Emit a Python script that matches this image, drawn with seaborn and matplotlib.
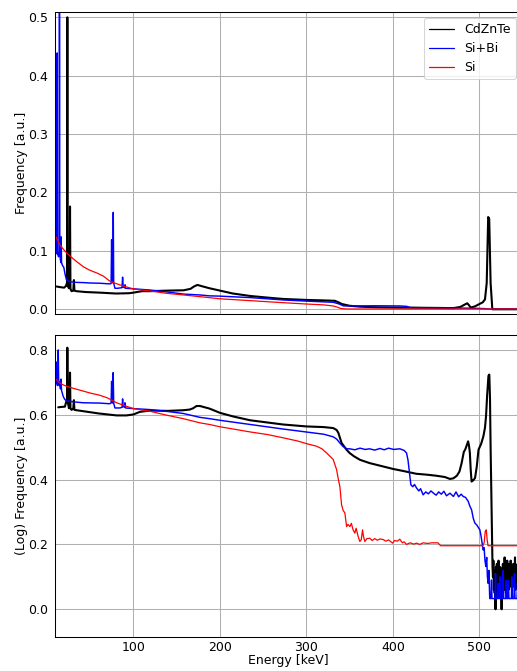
import matplotlib
matplotlib.use("Agg")
import matplotlib.pyplot as plt
import seaborn as sns
import pandas as pd

# ---------------- spectra: linear frequency ----------------
czt_top_e = [11.2, 15, 20, 22, 23.2, 23.6, 24.0, 25.5, 26.3, 26.7, 27.2, 28.5, 30.5, 31.2, 31.8,
             34, 45, 61, 80, 95, 100, 110, 119, 140, 158, 166, 170, 174, 178, 188, 200, 215,
             235, 255, 273, 300, 320, 333, 337, 341, 350, 362, 380, 400, 440, 470, 478, 483,
             486, 488, 490, 495, 500, 504, 506.5, 508.5, 510.2, 511.4, 513, 515, 530, 552]
czt_top_v = [0.039, 0.038, 0.037, 0.040, 0.045, 0.500, 0.040, 0.036, 0.050, 0.176, 0.035, 0.031,
             0.032, 0.050, 0.032, 0.031, 0.0295, 0.0285, 0.027, 0.0275, 0.0285, 0.031, 0.031,
             0.032, 0.0325, 0.035, 0.039, 0.0417, 0.040, 0.036, 0.032, 0.027, 0.0228, 0.020,
             0.0177, 0.016, 0.0152, 0.0145, 0.012, 0.009, 0.006, 0.0045, 0.0035, 0.003, 0.0025,
             0.002, 0.004, 0.008, 0.0103, 0.007, 0.003, 0.005, 0.009, 0.012, 0.017, 0.045,
             0.158, 0.155, 0.045, 0.0, 0.0, 0.0]

sibi_top_e = [10.0, 10.8, 11.5, 11.9, 12.3, 13.5, 14.2, 14.5, 14.9, 15.5, 16.2, 16.5, 16.9, 18,
              19.5, 21, 22.5, 25, 27, 35, 42, 50, 61, 72.5, 74.2, 74.8, 75.3, 76.2, 76.7, 77.2,
              78.6, 82, 86.8, 87.5, 88.2, 89.8, 90.3, 90.8, 100, 119, 140, 158, 177, 188, 200,
              235, 273, 300, 331, 338, 343, 360, 380, 408, 416, 420, 440, 470, 490, 505, 512, 552]
sibi_top_v = [0.13, 0.10, 0.095, 0.439, 0.095, 0.09, 0.10, 0.60, 0.10, 0.085, 0.08, 0.124, 0.08,
              0.075, 0.072, 0.06, 0.051, 0.048, 0.047, 0.046, 0.0457, 0.045, 0.0446, 0.0435,
              0.044, 0.119, 0.050, 0.045, 0.166, 0.045, 0.036, 0.036, 0.037, 0.055, 0.038, 0.037,
              0.042, 0.036, 0.035, 0.033, 0.0295, 0.026, 0.0245, 0.023, 0.0225, 0.020, 0.016,
              0.014, 0.012, 0.009, 0.0057, 0.0057, 0.006, 0.0057, 0.005, 0.003, 0.0025, 0.0022,
              0.0018, 0.0012, 0.0003, 0.0003]

si_top_e = [10, 11.2, 15, 19.5, 23, 26.6, 30, 34.3, 42, 48, 53.6, 58, 65, 73, 80, 88, 100, 119,
            138, 158, 177, 200, 235, 273, 300, 320, 331, 336, 339, 346, 552]
si_top_v = [0.125, 0.122, 0.11, 0.102, 0.096, 0.0914, 0.087, 0.0817, 0.073, 0.068, 0.0645,
            0.062, 0.057, 0.048, 0.044, 0.040, 0.0348, 0.0314, 0.0274, 0.0245, 0.0216, 0.018,
            0.0148, 0.0113, 0.009, 0.0075, 0.0057, 0.0035, 0.0017, 0.0005, 0.0005]

# ---------------- spectra: log frequency ----------------
czt_log_e = [13.1, 16, 20.8, 22.3, 23.3, 23.6, 24.0, 25.5, 26.3, 26.7, 27.2, 28.5, 30.5, 31.2,
             31.8, 42, 60, 80.6, 92, 100, 107.5, 119, 140, 157.6, 165, 169, 173, 177, 188, 200,
             215, 235, 255, 273, 300, 320, 331, 335, 337, 340.7, 346.5, 350, 355, 362, 373, 385,
             400, 413, 427, 440, 450, 460, 466, 470, 474, 477, 479.5, 482, 484, 486, 487, 488,
             489, 490, 491, 493, 495, 497, 499, 502, 504.6, 506.5, 507.7, 509, 510.5, 511.5,
             512.3, 513, 514, 515.2,
             515.7, 516.2, 516.7, 517.2, 517.7, 518.2, 518.7, 519.2, 519.7, 520.2, 520.7, 521.2,
             521.7, 522.2, 522.7, 523.2, 523.7, 524.2, 524.7, 525.2, 525.7, 526.2, 526.7, 527.2,
             527.7, 528.2, 528.7, 529.2, 529.7, 530.2, 530.7, 531.2, 531.7, 532.2, 532.7, 533.2,
             533.7, 534.2, 534.7, 535.2, 535.7, 536.2, 536.7, 537.2, 537.7, 538.2, 538.7, 539.2,
             539.7, 540.2, 540.7, 541.2, 541.7, 542.2, 542.7, 543.2, 543.7, 544.2, 544.7, 545.2,
             545.7, 546.2, 546.7, 547.2, 547.7, 548.2, 548.7, 549.2]
czt_log_v = [0.623, 0.624, 0.625, 0.640, 0.650, 0.807, 0.640, 0.620, 0.660, 0.730, 0.620, 0.615,
             0.620, 0.645, 0.615, 0.611, 0.604, 0.598, 0.598, 0.601, 0.609, 0.613, 0.612, 0.614,
             0.616, 0.620, 0.627, 0.627, 0.619, 0.606, 0.595, 0.583, 0.576, 0.570, 0.564, 0.562,
             0.559, 0.553, 0.544, 0.513, 0.492, 0.482, 0.472, 0.461, 0.451, 0.443, 0.433, 0.426,
             0.418, 0.415, 0.412, 0.408, 0.402, 0.404, 0.412, 0.425, 0.451, 0.485, 0.495, 0.510,
             0.518, 0.505, 0.483, 0.430, 0.394, 0.398, 0.405, 0.440, 0.492, 0.510, 0.533, 0.560,
             0.595, 0.660, 0.720, 0.724, 0.650, 0.500, 0.338, 0.132,
             0.10, 0.15, 0.06, 0.12, 0.05, 0.11, 0.0, 0.13, 0.08, 0.14, 0.07, 0.12,
             0.09, 0.15, 0.06, 0.11, 0.08, 0.13, 0.04, 0.12, 0.0, 0.10, 0.07, 0.14,
             0.09, 0.13, 0.06, 0.16, 0.08, 0.12, 0.05, 0.13, 0.09, 0.15, 0.07, 0.12,
             0.06, 0.14, 0.10, 0.12, 0.07, 0.15, 0.08, 0.13, 0.06, 0.11, 0.09, 0.14,
             0.07, 0.12, 0.10, 0.16, 0.06, 0.13, 0.08, 0.12, 0.07, 0.14, 0.09, 0.12,
             0.08, 0.13, 0.06, 0.11, 0.09, 0.12, 0.07, 0.13]

sibi_log_e = [10.0, 10.6, 11.2, 12.2, 12.7, 13.1, 13.6, 14.3, 15.0, 15.6, 16.3, 16.9, 18, 18.8,
              20.5, 22.8, 26.6, 30, 42, 61.3, 72.5, 74.2, 74.8, 75.3, 76.2, 76.6, 77.2, 78.6,
              84.4, 86.9, 87.5, 88.1, 89.8, 90.2, 90.8, 100, 119, 140, 157.6, 177, 188, 200, 235,
              273, 300, 320, 331, 335, 338.7, 342, 346.5, 350, 356, 362, 368, 373, 379, 385, 390,
              395, 401, 408, 413, 415.8, 417.5, 418.8, 420.8, 423, 425, 427.4, 430, 432, 435, 438,
              441, 444, 446.6, 450, 453, 456, 459, 462, 466, 470, 473, 476, 479, 481.3, 484,
              487.1, 489, 491, 493, 494.8, 497, 500.6, 502, 503.5, 504.4, 505.5, 506.5, 507.5,
              508.5, 509.3, 510.2, 511, 512,
              513.4, 514.0, 514.6, 518.1, 518.7, 519.3, 521.0, 521.6, 522.2, 523.2, 523.8, 524.4,
              527.0, 527.6, 528.2, 530.5, 531.1, 531.7, 533.0, 533.6, 534.2, 537.0, 537.6, 538.2,
              540.0, 540.6, 541.2, 543.5, 544.1, 544.7, 546.0, 546.6, 547.2, 552]
sibi_log_v = [0.72, 0.763, 0.70, 0.69, 0.72, 0.80, 0.70, 0.69, 0.703, 0.68, 0.71, 0.675, 0.665,
              0.657, 0.648, 0.642, 0.642, 0.640, 0.637, 0.636, 0.634, 0.636, 0.703, 0.640, 0.636,
              0.730, 0.636, 0.621, 0.621, 0.623, 0.649, 0.625, 0.624, 0.637, 0.621, 0.619, 0.616,
              0.610, 0.604, 0.592, 0.588, 0.583, 0.570, 0.556, 0.547, 0.540, 0.532, 0.525, 0.513,
              0.503, 0.495, 0.495, 0.492, 0.497, 0.493, 0.495, 0.491, 0.496, 0.492, 0.497, 0.493,
              0.495, 0.490, 0.482, 0.460, 0.431, 0.384, 0.378, 0.385, 0.374, 0.365, 0.372, 0.353,
              0.362, 0.356, 0.365, 0.359, 0.352, 0.362, 0.355, 0.364, 0.350, 0.358, 0.348, 0.362,
              0.347, 0.355, 0.348, 0.345, 0.333, 0.318, 0.307, 0.280, 0.266, 0.260, 0.245, 0.225,
              0.200, 0.183, 0.190, 0.150, 0.132, 0.160, 0.100, 0.080, 0.120, 0.033,
              0.033, 0.09, 0.033, 0.033, 0.11, 0.033, 0.033, 0.08, 0.033, 0.033, 0.10, 0.033,
              0.033, 0.12, 0.033, 0.033, 0.09, 0.033, 0.033, 0.09, 0.033, 0.033, 0.10, 0.033,
              0.033, 0.11, 0.033, 0.033, 0.08, 0.033, 0.033, 0.13, 0.033, 0.033]

si_log_e = [10, 12, 15, 19, 22.8, 30, 42, 50, 61.3, 70, 80.6, 90, 100, 119, 138, 157.6, 177, 188,
            200, 235, 255, 273, 290, 300, 311.8, 318, 323.4, 328, 331, 334.9, 337, 338.7, 340.7,
            342.5, 344.5, 346.5, 348, 350.3, 352, 354, 356, 357.5, 359.9, 361.8, 363.5, 364.9,
            366, 367.6, 370, 373.4, 376, 379, 382, 385, 388.8, 392, 395, 399.7, 402, 405, 408,
            411, 413, 415.8, 420, 424, 427.4, 431, 435, 440, 445, 452, 455.2, 504, 505.5, 506.8,
            508, 509, 510, 552]
si_log_v = [0.711, 0.706, 0.698, 0.692, 0.688, 0.682, 0.673, 0.667, 0.660, 0.652, 0.637, 0.628,
            0.619, 0.611, 0.599, 0.588, 0.575, 0.570, 0.563, 0.547, 0.539, 0.529, 0.519, 0.511,
            0.503, 0.495, 0.482, 0.470, 0.462, 0.431, 0.400, 0.379, 0.322, 0.305, 0.297, 0.255,
            0.262, 0.255, 0.265, 0.245, 0.235, 0.250, 0.224, 0.209, 0.215, 0.245, 0.225, 0.209,
            0.218, 0.219, 0.212, 0.218, 0.213, 0.217, 0.215, 0.210, 0.214, 0.204, 0.212, 0.210,
            0.216, 0.205, 0.208, 0.200, 0.205, 0.201, 0.204, 0.200, 0.205, 0.203, 0.205, 0.205,
            0.196, 0.196, 0.205, 0.240, 0.245, 0.215, 0.196, 0.196]

detectors = ["CdZnTe", "Si+Bi", "Si"]
colors = {"CdZnTe": "black", "Si+Bi": "blue", "Si": "red"}
widths = {"CdZnTe": 2.0, "Si+Bi": 1.4, "Si": 1.2}

top_series = {"CdZnTe": (czt_top_e, czt_top_v),
              "Si+Bi": (sibi_top_e, sibi_top_v),
              "Si": (si_top_e, si_top_v)}
log_series = {"CdZnTe": (czt_log_e, czt_log_v),
              "Si+Bi": (sibi_log_e, sibi_log_v),
              "Si": (si_log_e, si_log_v)}

sns.set_style("whitegrid", {"grid.color": "#b0b0b0",
                            "axes.edgecolor": "black", "xtick.color": "black",
                            "ytick.color": "black", "text.color": "black",
                            "axes.labelcolor": "black"})
plt.rcParams.update({
    "font.family": ["DejaVu Sans"],
    "font.size": 12,
    "axes.labelsize": 12,
    "xtick.labelsize": 12,
    "ytick.labelsize": 12,
    "legend.fontsize": 12,
    "axes.linewidth": 1.0,
    "grid.linewidth": 1.0,
    "xtick.major.size": 0,
    "ytick.major.size": 0,
    "xtick.major.pad": 3.5,
    "ytick.major.pad": 6.5,
    "axes.labelpad": 0.0,
})

DPI = 75
W, H = 517, 671
fig = plt.figure(figsize=(W / DPI, H / DPI), dpi=DPI)
left, right = 55, 522
ax_top = fig.add_axes([left / W, (H - 314.3) / H, (right - left) / W, (314.3 - 11.7) / H])
ax_bot = fig.add_axes([left / W, (H - 637.3) / H, (right - left) / W, (637.3 - 334.7) / H],
                      sharex=ax_top)

for name in detectors:
    e, v = top_series[name]
    df = pd.DataFrame({"Energy": e, "Frequency": v})
    sns.lineplot(data=df, x="Energy", y="Frequency", ax=ax_top, color=colors[name],
                 linewidth=widths[name], label=name, estimator=None, sort=False)
    e, v = log_series[name]
    df = pd.DataFrame({"Energy": e, "Frequency": v})
    sns.lineplot(data=df, x="Energy", y="Frequency", ax=ax_bot, color=colors[name],
                 linewidth=widths[name], legend=False, estimator=None, sort=False)

ax_top.set_xlim(9.34, 549.3)
ax_top.set_ylim(-0.0086, 0.5096)
ax_bot.set_ylim(-0.0865, 0.847)

ax_top.set_yticks([0.0, 0.1, 0.2, 0.3, 0.4, 0.5])
ax_bot.set_yticks([0.0, 0.2, 0.4, 0.6, 0.8])
ax_bot.set_xticks([100, 200, 300, 400, 500])
ax_top.tick_params(axis="x", labelbottom=False, length=3.5, width=0.8, color="#808080")

ax_top.set_xlabel("")
ax_top.set_ylabel("Frequency [a.u.]")
ax_bot.set_xlabel("Energy [keV]")
ax_bot.set_ylabel("(Log) Frequency [a.u.]")

for ax in (ax_top, ax_bot):
    ax.grid(True, color="#b0b0b0", linewidth=1.0)
    for s in ax.spines.values():
        s.set_visible(True)
        s.set_color("black")

leg = ax_top.legend(loc="upper right", handlelength=2.0, frameon=True)
leg.get_frame().set_edgecolor("#cccccc")
for line, name in zip(leg.get_lines(), detectors):
    line.set_color(colors[name])
    line.set_linewidth(1.2)

fig.savefig("out.png", dpi=DPI)
